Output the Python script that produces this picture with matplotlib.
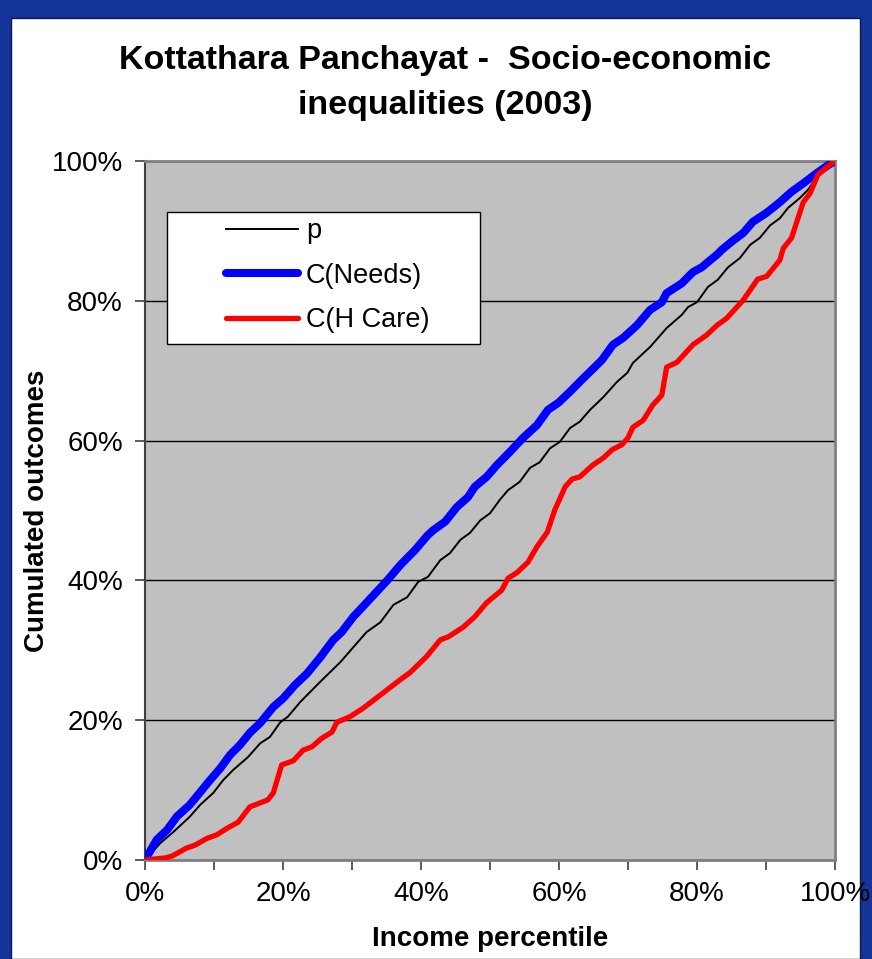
import matplotlib
matplotlib.use('Agg')
import matplotlib.pyplot as plt
from matplotlib.patches import Rectangle
from matplotlib.ticker import MultipleLocator, FuncFormatter

# p (population share)
p_x = [0, .022, .041, .065, .080, .099, .113, .128, .149, .167, .181, .196, .207, .225,
       .254, .283, .321, .341, .360, .380, .396, .410, .428, .442, .457, .471, .486, .500,
       .514, .526, .543, .558, .572, .587, .601, .616, .630, .645, .664, .684, .699, .707,
       .732, .756, .778, .787, .800, .816, .830, .845, .862, .877, .891, .906, .920, .932,
       .949, .961, .971, .981, 1.0]
p_y = [0, .024, .040, .062, .079, .096, .114, .129, .147, .167, .176, .197, .205, .226,
       .255, .283, .326, .340, .365, .376, .398, .405, .429, .439, .458, .468, .486, .496,
       .515, .529, .541, .561, .569, .589, .598, .618, .627, .644, .662, .684, .697, .711,
       .734, .761, .780, .791, .798, .820, .830, .848, .861, .880, .890, .908, .918, .933,
       .947, .959, .973, .987, 1.0]

needs_x = [0, .017, .032, .046, .065, .080, .094, .109, .123, .138, .152, .167, .186, .200,
           .217, .235, .254, .273, .285, .302, .321, .336, .352, .370, .391, .410, .418, .435,
           .452, .468, .478, .495, .510, .529, .548, .568, .584, .599, .616, .633, .662, .678,
           .693, .713, .732, .749, .756, .778, .794, .807, .819, .829, .836, .852, .867, .881,
           .901, .920, .937, .954, .974, .990, 1.0]
needs_y = [0, .029, .043, .062, .079, .097, .114, .131, .150, .165, .182, .196, .219, .231,
           .250, .267, .290, .315, .326, .348, .368, .384, .401, .422, .443, .465, .472, .484,
           .505, .519, .534, .548, .565, .584, .604, .622, .644, .654, .670, .687, .715, .737,
           .747, .765, .787, .798, .811, .825, .841, .848, .858, .866, .873, .886, .897, .913,
           .926, .941, .956, .968, .983, .994, 1.0]

care_x = [0, .03, .04, .06, .072, .09, .104, .12, .135, .152, .178, .186, .198, .215, .229,
          .242, .256, .271, .278, .297, .316, .345, .370, .384, .408, .428, .439, .461, .478,
          .495, .517, .526, .539, .555, .568, .583, .594, .609, .619, .630, .649, .664, .677,
          .691, .700, .707, .722, .736, .749, .756, .771, .794, .814, .829, .843, .867, .888,
          .901, .920, .925, .937, .954, .964, .975, .988, 1.0]
care_y = [0, .003, .006, .017, .021, .031, .036, .046, .054, .076, .086, .096, .136, .142, .157,
          .162, .174, .183, .197, .205, .217, .239, .258, .268, .291, .315, .319, .333, .348,
          .368, .386, .403, .411, .426, .448, .469, .501, .534, .545, .548, .565, .575, .587,
          .594, .604, .619, .629, .651, .665, .705, .712, .737, .751, .765, .775, .801, .831,
          .835, .858, .875, .890, .941, .954, .980, .991, 1.0]

plt.rcParams['font.family'] = ['Liberation Sans', 'DejaVu Sans']

W, H = 872, 959
fig = plt.figure(figsize=(W / 100, H / 100), dpi=100, facecolor='#14349a')
fig.patches.append(Rectangle((11 / W, 0), (860 - 11) / W, (H - 18) / H,
                             transform=fig.transFigure, facecolor='white',
                             edgecolor='#0a1a50', lw=1, zorder=-10))

ax = fig.add_axes([145 / W, (H - 860) / H, 690 / W, 699 / H])
ax.set_facecolor('#c0c0c0')

ax.plot(p_x, p_y, color='black', lw=1.4, label='p', zorder=3)
ax.plot(needs_x, needs_y, color='#0000ff', lw=5.8, label='C(Needs)', zorder=4,
        solid_capstyle='round', solid_joinstyle='round')
ax.plot(care_x, care_y, color='#ff0000', lw=3.8, label='C(H Care)', zorder=5,
        solid_capstyle='round', solid_joinstyle='round')

ax.set_xlim(0, 1)
ax.set_ylim(0, 1)
ax.xaxis.set_major_locator(MultipleLocator(0.2))
ax.xaxis.set_minor_locator(MultipleLocator(0.1))
ax.yaxis.set_major_locator(MultipleLocator(0.2))
pct = FuncFormatter(lambda v, _: f"{v * 100:.0f}%")
ax.xaxis.set_major_formatter(pct)
ax.yaxis.set_major_formatter(pct)
ax.tick_params(axis='both', which='both', direction='out', length=7, width=1.2,
               color='#404040', labelsize=20)
ax.tick_params(axis='x', pad=8)
ax.tick_params(axis='y', pad=9)

ax.grid(axis='y', color='black', lw=1)
ax.set_axisbelow(True)
for s in ['top', 'right', 'bottom']:
    ax.spines[s].set_color('#808080')
    ax.spines[s].set_linewidth(2)
ax.spines['left'].set_color('#404040')
ax.spines['left'].set_linewidth(1.5)

ax.set_xlabel('Income percentile', fontsize=20, fontweight='bold', labelpad=14)
ax.set_ylabel('Cumulated outcomes', fontsize=20, fontweight='bold', labelpad=1)

fig.text(445 / W, 1 - 83 / H, 'Kottathara Panchayat -  Socio-economic\ninequalities (2003)',
         ha='center', va='center', fontsize=24.5, fontweight='bold', linespacing=1.57)

# legend box
box = Rectangle(((167 - 145) / 690, (860 - 344) / 699), (480 - 167) / 690, (344 - 212) / 699,
                transform=ax.transAxes, facecolor='white', edgecolor='black', lw=1, zorder=6)
ax.add_patch(box)
leg = ax.legend(loc='center', bbox_to_anchor=(0.265, 0.836), frameon=False, fontsize=19.5,
                handlelength=2.65, handletextpad=0.3, labelspacing=0.68)
leg.set_zorder(7)

fig.savefig('out.png', dpi=100, facecolor=fig.get_facecolor())
